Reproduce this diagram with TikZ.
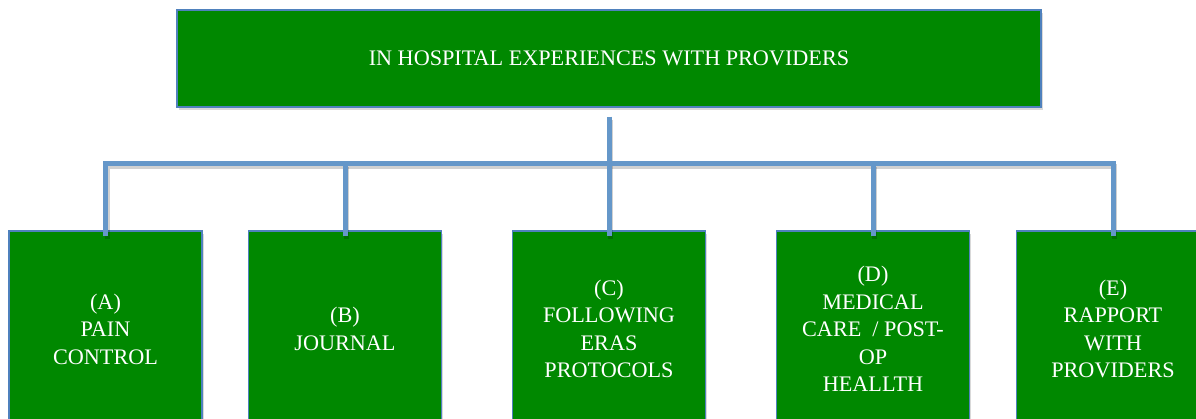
\documentclass[tikz,border=0pt]{standalone}
\usepackage{fontspec}
\setmainfont{Liberation Serif}
\usetikzlibrary{shadows}
\definecolor{boxgreen}{RGB}{0,136,0}
\definecolor{rimblue}{RGB}{79,129,189}
\definecolor{linkblue}{RGB}{101,151,201}
\begin{document}
\begin{tikzpicture}[x=1pt,y=-1pt]
  \tikzstyle{box}=[rectangle,draw=rimblue,line width=1.2pt,fill=boxgreen,text=white,align=center,inner sep=0pt,
    font=\fontsize{22.2}{27.5}\selectfont,drop shadow={shadow xshift=1.5pt,shadow yshift=-3pt,opacity=0.3}]
  \tikzstyle{topic}=[box,minimum width=193pt,minimum height=196pt]
  \tikzstyle{link}=[draw=linkblue,line width=5pt]
  \tikzstyle{linkshade}=[draw=black,opacity=0.18,line width=5pt,transform canvas={xshift=1.5pt,yshift=-3pt}]
  \clip (0,0) rectangle (1196,419);
  \node[box,minimum width=864pt,minimum height=97pt] (top) at (609,58.5) {IN HOSPITAL EXPERIENCES WITH PROVIDERS};
  \node[topic] (a) at (105.5,329) {(A)\\PAIN\\CONTROL};
  \node[topic] (b) at (345,329) {(B)\\JOURNAL};
  \node[topic] (c) at (609,329) {(C)\\FOLLOWING\\ERAS\\PROTOCOLS};
  \node[topic] (d) at (873,329) {(D)\\MEDICAL\\CARE\ \ / POST-\\OP\\HEALLTH};
  \node[topic] (e) at (1113,329) {(E)\\RAPPORT\\WITH\\PROVIDERS};
  \coordinate (trunk) at ([yshift=-9pt]top.south);
  \coordinate (bar) at (609,164);
  \foreach \s in {linkshade,link}{
    \draw[\s] (trunk) -- ([yshift=-6pt]c.north);
    \draw[\s] ([yshift=-6pt]a.north) |- (bar) -| ([yshift=-6pt]e.north);
    \foreach \n in {b,d}
      \draw[\s] ([yshift=-6pt]\n.north) -- (\n.north |- bar);
  }
\end{tikzpicture}
\end{document}
